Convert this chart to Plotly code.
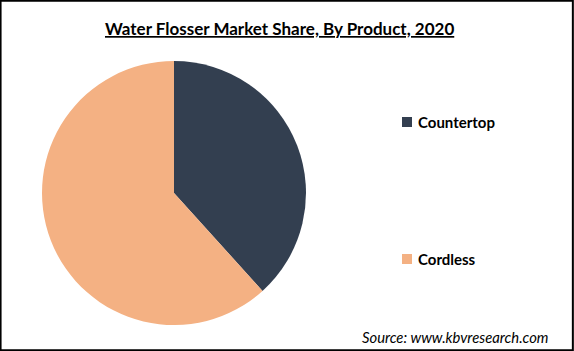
import plotly.graph_objects as go

categories = ["Countertop", "Cordless"]
shares = [38.3, 61.7]
colors = ["#333F50", "#F4B183"]

W, H = 574, 351
fig = go.Figure()
fig.add_trace(go.Pie(
    labels=categories, values=shares,
    marker=dict(colors=colors, line=dict(width=0)),
    sort=False, direction="clockwise", rotation=0,
    textinfo="none", hoverinfo="label+percent",
    showlegend=False,
    domain=dict(x=[42 / W, 306 / W], y=[(H - 325) / H, (H - 61) / H]),
))

FONT = "Lato"
ann = [dict(text="<u>Water Flosser Market Share, By Product, 2020</u>",
            x=279 / W, y=1 - 29 / H, xref="paper", yref="paper",
            showarrow=False, xanchor="center", yanchor="middle",
            font=dict(family=FONT, size=17, color="#000000", weight="bold")),
       dict(text="<i>Source: www.kbvresearch.com</i>",
            x=551 / W, y=1 - 337 / H, xref="paper", yref="paper",
            showarrow=False, xanchor="right", yanchor="middle",
            font=dict(family=FONT, size=14.8, color="#000000"))]
shapes = [dict(type="rect", xref="paper", yref="paper", x0=0.001, y0=0.002, x1=0.998, y1=0.998,
               line=dict(color="#000000", width=2), fillcolor="rgba(0,0,0,0)")]
legend_y = [122, 259]
for lab, col, yy in zip(categories, colors, legend_y):
    shapes.append(dict(type="rect", xref="paper", yref="paper",
                       x0=402 / W, x1=412 / W, y0=1 - (yy + 5) / H, y1=1 - (yy - 5) / H,
                       line=dict(width=0), fillcolor=col))
    ann.append(dict(text=lab, x=416 / W, y=1 - yy / H, xref="paper", yref="paper",
                    showarrow=False, xanchor="left", yanchor="middle",
                    font=dict(family=FONT, size=15, color="#000000", weight="bold")))

fig.update_layout(width=W, height=H, margin=dict(l=0, r=0, t=0, b=0),
                  paper_bgcolor="#FFFFFF", plot_bgcolor="#FFFFFF",
                  annotations=ann, shapes=shapes)
fig.write_html("out.html")
